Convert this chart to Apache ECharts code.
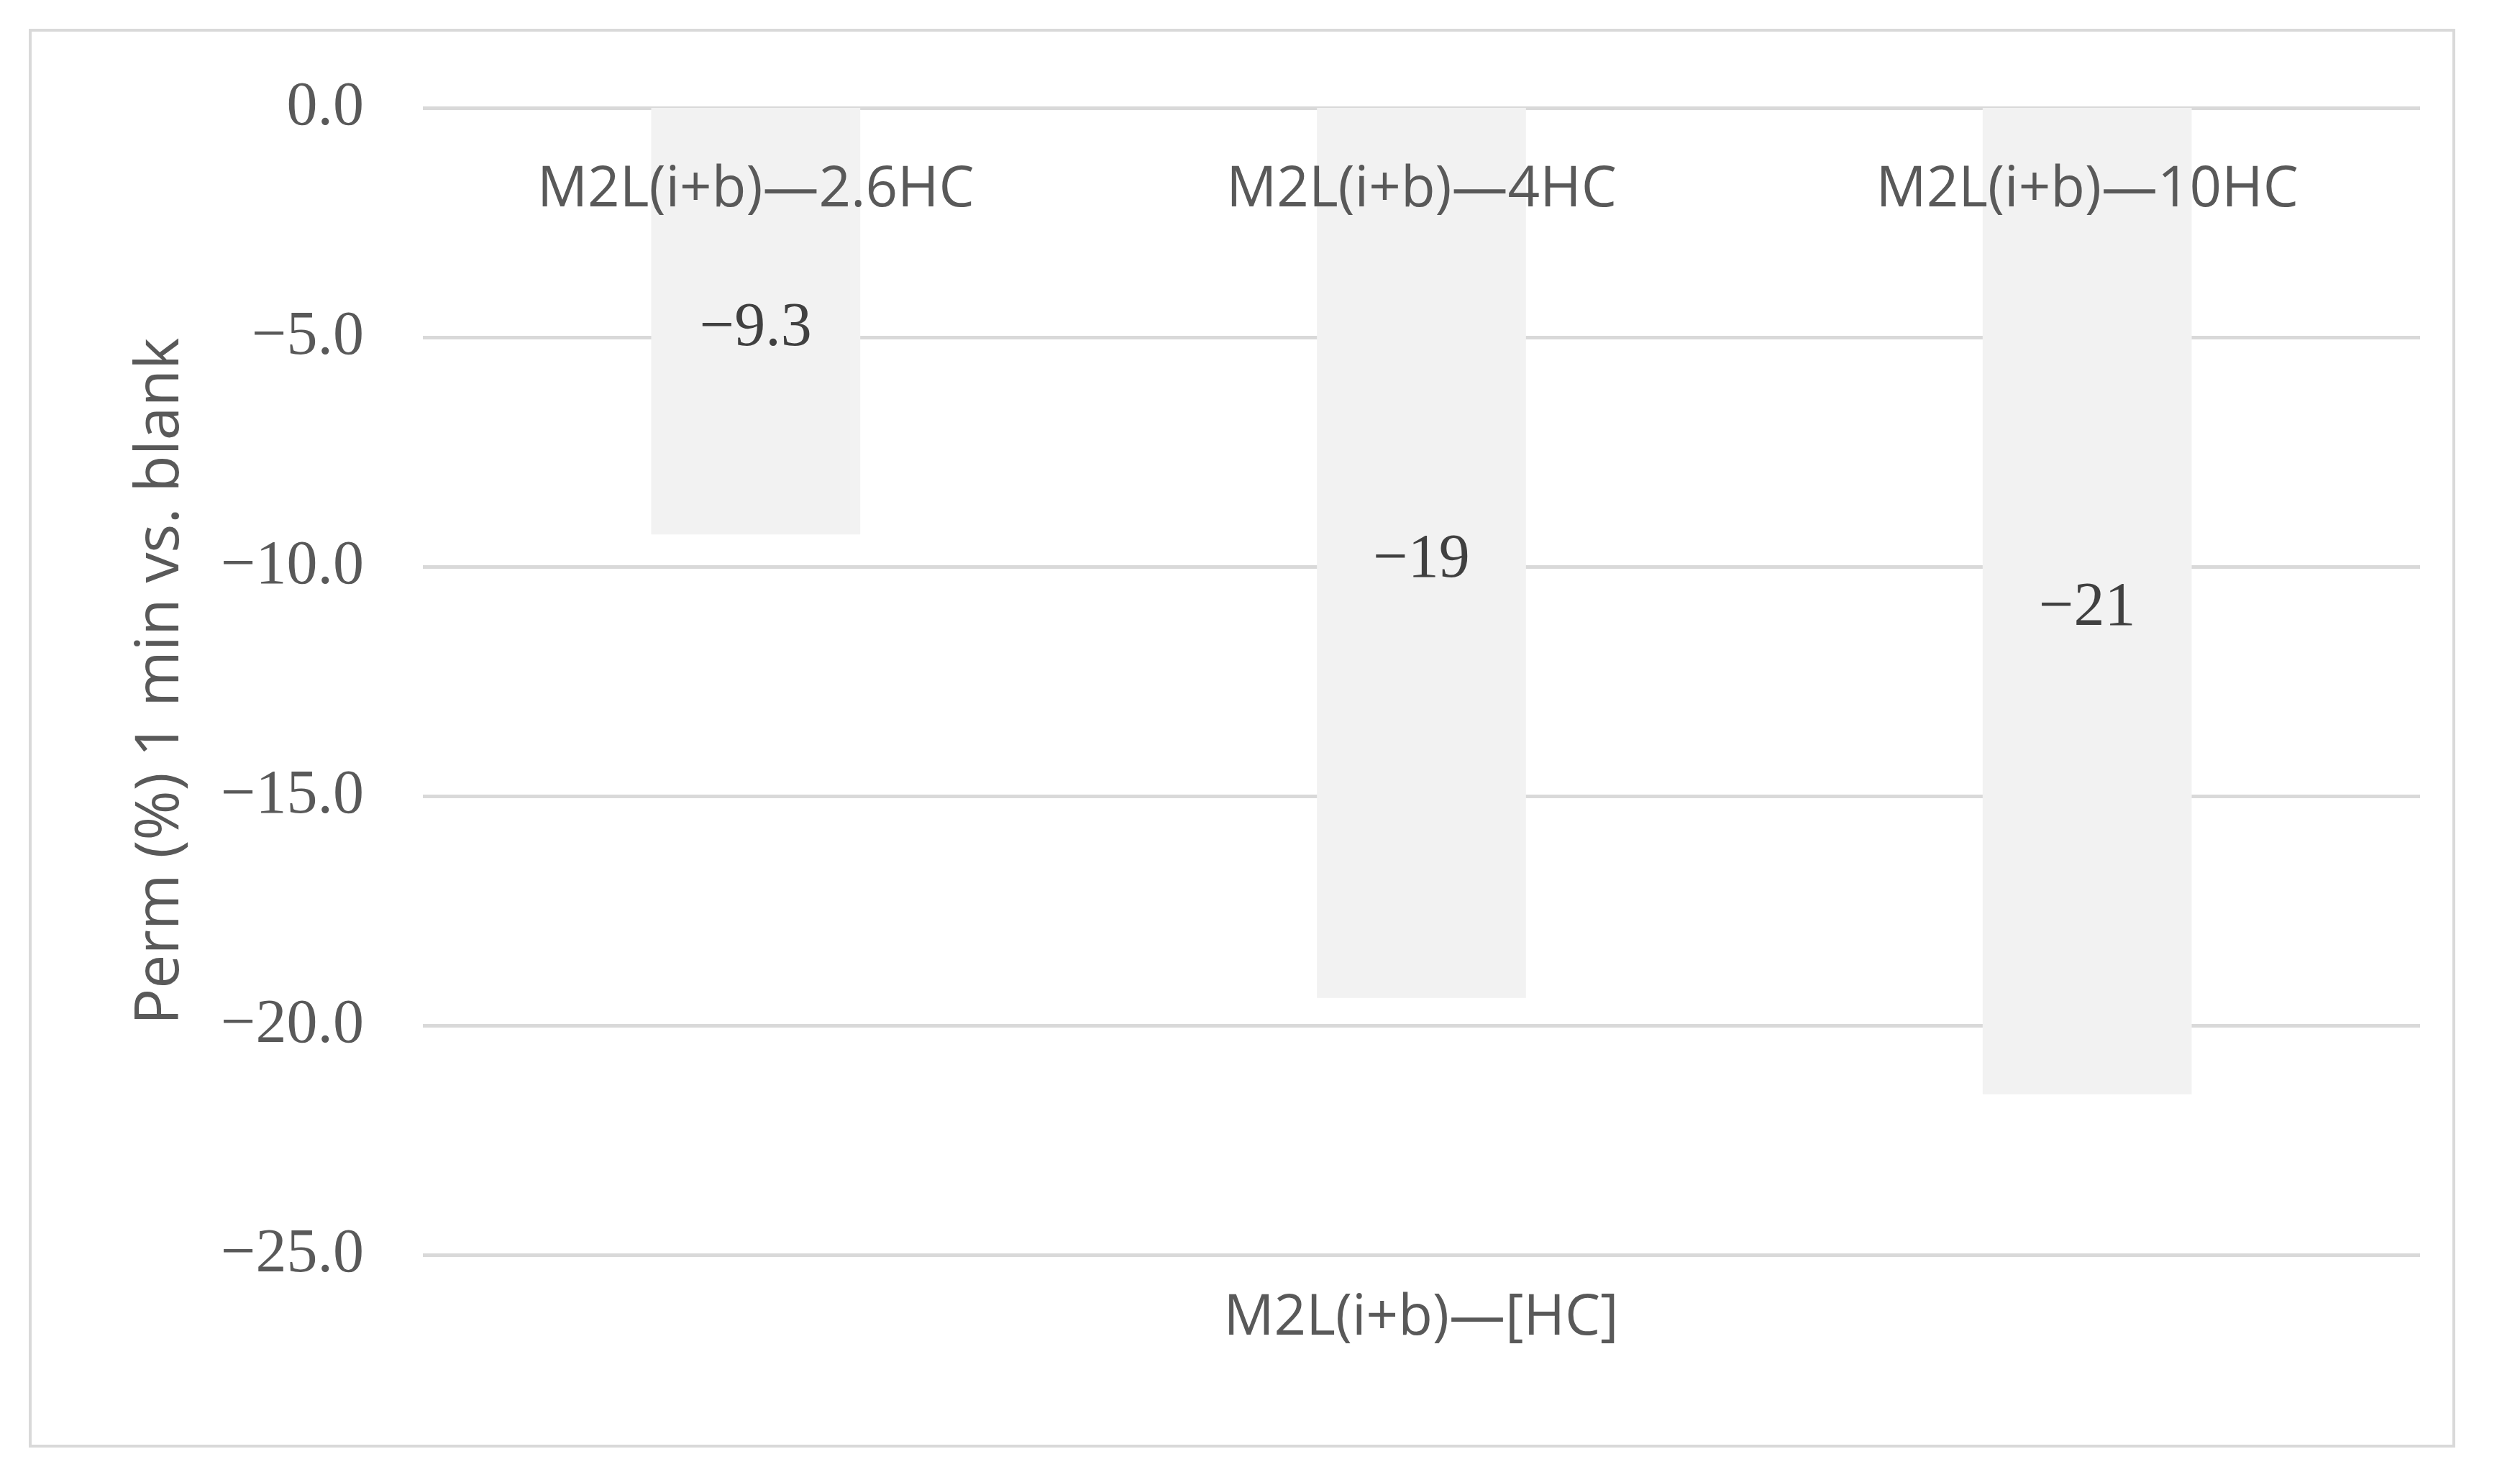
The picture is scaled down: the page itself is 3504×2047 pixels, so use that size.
<!DOCTYPE html>
<html>
<head>
<meta charset="utf-8">
<script src="https://cdn.jsdelivr.net/npm/echarts@6/dist/echarts.min.js"></script>
<style>html,body{margin:0;padding:0;background:#fff;}#c{width:3504px;height:2047px;}</style>
</head>
<body>
<div id="c"></div>
<script>
const categories = ['M2L(i+b)\u20142.6HC', 'M2L(i+b)\u20144HC', 'M2L(i+b)\u201410HC'];
const values = [-9.3, -19.4, -21.5];
const valueLabels = ['\u22129.3', '\u221219', '\u221221'];
const yTicks = { min: -25, max: 0, interval: 5 };
const yAxisTitle = 'Perm (%) 1 min vs. blank';
const xAxisTitle = 'M2L(i+b)\u2014[HC]';

const chart = echarts.init(document.getElementById('c'), null, { renderer: 'canvas' });
chart.setOption({
  backgroundColor: '#ffffff',
  animation: false,
  graphic: [{
    type: 'rect',
    shape: { x: 42, y: 42, width: 3370, height: 1969 },
    style: { fill: 'none', stroke: '#d9d9d9', lineWidth: 4 },
    z: -1
  }, {
    type: 'text',
    x: 1976,
    y: 1834,
    style: {
      text: xAxisTitle,
      fontFamily: 'Open Sans',
      fontSize: 78,
      fill: '#595959',
      align: 'center',
      verticalAlign: 'middle'
    }
  }],
  grid: { left: 588, right: 139, top: 150, bottom: 302, containLabel: false },
  xAxis: {
    type: 'category',
    position: 'top',
    data: categories,
    z: 20,
    axisLine: { show: false },
    axisTick: { show: false },
    axisLabel: {
      inside: true,
      margin: 76,
      fontFamily: 'Open Sans',
      fontSize: 78,
      color: '#595959'
    },
    splitLine: { show: false }
  },
  yAxis: {
    type: 'value',
    min: yTicks.min,
    max: yTicks.max,
    interval: yTicks.interval,
    name: yAxisTitle,
    nameLocation: 'middle',
    nameGap: 322,
    nameTextStyle: { fontFamily: 'Open Sans', fontSize: 84, color: '#595959' },
    axisLine: { show: false },
    axisTick: { show: false },
    axisLabel: {
      margin: 82,
      fontFamily: 'Liberation Serif',
      fontSize: 86,
      color: '#595959',
      formatter: function (v) {
        const s = Math.abs(v).toFixed(1);
        return v < 0 ? '\u2212' + s : s;
      }
    },
    splitLine: { show: true, lineStyle: { color: '#d9d9d9', width: 5 } }
  },
  series: [{
    type: 'bar',
    data: values,
    barWidth: '31.4%',
    z: 2,
    itemStyle: { color: '#f2f2f2' },
    label: {
      show: true,
      position: 'inside',
      offset: [0, 11],
      fontFamily: 'Liberation Serif',
      fontSize: 86,
      color: '#404040',
      formatter: function (p) { return valueLabels[p.dataIndex]; }
    }
  }]
});
</script>
</body>
</html>
